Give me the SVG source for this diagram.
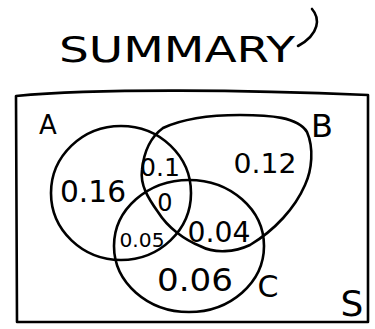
<svg xmlns="http://www.w3.org/2000/svg" width="375" height="329" viewBox="0 0 375 329">
<style>
.ln{fill:none;stroke:#000;stroke-width:2.6;stroke-linecap:round;stroke-linejoin:round}
.t{font-family:"DejaVu Sans","Liberation Sans",sans-serif;fill:#000;text-anchor:middle;dominant-baseline:central;lengthAdjust:spacingAndGlyphs}
</style>
<rect width="375" height="329" fill="#fff"/>
<g id="title">
<text class="t" x="177" y="50" font-size="35" textLength="236" lengthAdjust="spacingAndGlyphs">SUMMARY</text>
<path class="ln" d="M312 9 C320 18 320 34 298 46" stroke-width="2.2"/>
</g>
<g id="connectors">
<path class="ln" d="M16 96 C100 88 250 90 368 95 L368 322 L17 322 Z"/>
</g>
<g id="A">
<ellipse class="ln" cx="121" cy="193" rx="70" ry="67"/>
<text class="t" x="48" y="125" font-size="26">A</text>
<text class="t" x="93" y="191" font-size="30" textLength="66" lengthAdjust="spacingAndGlyphs">0.16</text>
</g>
<g id="B">
<path class="ln" d="M163 128 C180 120 205 115 240 115 C270 115 298 117 307 132 C314 148 312 170 305 185 C295 208 275 230 250 245 C235 252 215 254 200 246 C185 240 168 228 158 212 C148 198 140 185 142 170 C144 150 152 136 163 128 Z"/>
<text class="t" x="322" y="126" font-size="32">B</text>
<text class="t" x="265" y="163" font-size="27" textLength="63" lengthAdjust="spacingAndGlyphs">0.12</text>
</g>
<g id="C">
<ellipse class="ln" cx="189" cy="246" rx="75" ry="66"/>
<text class="t" x="268" y="286" font-size="30">C</text>
<text class="t" x="195" y="280" font-size="32" textLength="76" lengthAdjust="spacingAndGlyphs">0.06</text>
</g>
<g id="AB">
<text class="t" x="160" y="167" font-size="25" textLength="40" lengthAdjust="spacingAndGlyphs">0.1</text>
</g>
<g id="ABC">
<text class="t" x="165" y="203" font-size="24">0</text>
</g>
<g id="AC">
<text class="t" x="142" y="240" font-size="19" textLength="45" lengthAdjust="spacingAndGlyphs">0.05</text>
</g>
<g id="BC">
<text class="t" x="219" y="232" font-size="28" textLength="63" lengthAdjust="spacingAndGlyphs">0.04</text>
</g>
<g id="S">
<text class="t" x="352" y="303" font-size="36">S</text>
</g>
</svg>
